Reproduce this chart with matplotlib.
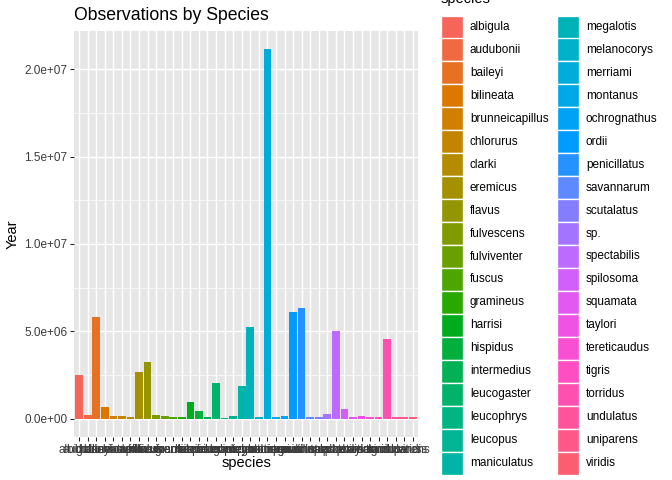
import numpy as np
import matplotlib
matplotlib.use("Agg")
from matplotlib import pyplot as plt
from matplotlib.patches import Rectangle
from matplotlib.ticker import FixedLocator

species = ["albigula", "audubonii", "baileyi", "bilineata", "brunneicapillus",
           "chlorurus", "clarki", "eremicus", "flavus", "fulvescens",
           "fulviventer", "fuscus", "gramineus", "harrisi", "hispidus",
           "intermedius", "leucogaster", "leucophrys", "leucopus", "maniculatus",
           "megalotis", "melanocorys", "merriami", "montanus", "ochrognathus",
           "ordii", "penicillatus", "savannarum", "scutalatus", "sp.",
           "spectabilis", "spilosoma", "squamata", "taylori", "tereticaudus",
           "tigris", "torridus", "undulatus", "uniparens", "viridis"]

year_sum = [2.52e6, 0.21e6, 5.83e6, 0.67e6, 0.17e6,
            0.17e6, 0.06e6, 2.64e6, 3.23e6, 0.21e6,
            0.15e6, 0.08e6, 0.09e6, 0.95e6, 0.44e6,
            0.09e6, 2.05e6, 0.04e6, 0.15e6, 1.86e6,
            5.26e6, 0.11e6, 2.114e7, 0.09e6, 0.17e6,
            6.10e6, 6.32e6, 0.06e6, 0.06e6, 0.25e6,
            5.03e6, 0.57e6, 0.11e6, 0.17e6, 0.06e6,
            0.06e6, 4.56e6, 0.08e6, 0.06e6, 0.06e6]

y_ticks = [0, 5e6, 1e7, 1.5e7, 2e7]
y_tick_labels = ["0.0e+00", "5.0e+06", "1.0e+07", "1.5e+07", "2.0e+07"]


def screen(rgb):
    # the reference looks a little darker than plain sRGB (gamma 1.8 vs 2.2)
    return tuple(ch ** (2.2 / 1.8) for ch in rgb)


def hcl_to_rgb(h, c=100, l=65):
    # polar Luv -> sRGB, like R's hcl()
    xn, yn, zn = 95.047, 100.0, 108.883
    u = c * np.cos(np.radians(h))
    v = c * np.sin(np.radians(h))
    y = yn * ((l + 16) / 116) ** 3 if l > 8 else yn * l / 903.3
    un = 4 * xn / (xn + 15 * yn + 3 * zn)
    vn = 9 * yn / (xn + 15 * yn + 3 * zn)
    up = u / (13 * l) + un
    vp = v / (13 * l) + vn
    x = y * 9 * up / (4 * vp)
    z = y * (12 - 3 * up - 20 * vp) / (4 * vp)
    x, y, z = x / 100, y / 100, z / 100
    r = 3.240479 * x - 1.537150 * y - 0.498535 * z
    g = -0.969256 * x + 1.875992 * y + 0.041556 * z
    b = 0.055648 * x - 0.204043 * y + 1.057311 * z
    out = []
    for ch in (r, g, b):
        ch = min(max(ch, 0), 1)
        ch = 12.92 * ch if ch <= 0.0031308 else 1.055 * ch ** (1 / 2.4) - 0.055
        out.append(min(max(ch, 0), 1))
    return tuple(out)


def grey(level):
    g = level / 100
    return screen((g, g, g))


n = len(species)
hues = np.linspace(15, 375, n + 1)[:n]
colors = [screen(hcl_to_rgb(h)) for h in hues]

plt.rcParams['font.family'] = ['Liberation Sans', 'DejaVu Sans']
W, H = 672, 480
fig = plt.figure(figsize=(7, 5), dpi=96)

left, right, top, bottom = 74, 418, 31, 437
ax = fig.add_axes([left / W, 1 - bottom / H, (right - left) / W, (bottom - top) / H])
ax.set_facecolor(grey(92))
x = np.arange(1, n + 1)
ax.bar(x, year_sum, width=0.9, color=colors, zorder=3)

ymax = max(year_sum)
ax.set_ylim(-0.05 * ymax, 1.05 * ymax)
ax.set_xlim(0.4, n + 0.6)
ax.yaxis.set_major_locator(FixedLocator(y_ticks))
ax.yaxis.set_minor_locator(FixedLocator([2.5e6, 7.5e6, 1.25e7, 1.75e7]))
ax.set_yticklabels(y_tick_labels)
ax.set_xticks(x)
ax.set_xticklabels(species)
ax.grid(which="major", color="white", linewidth=1.07, zorder=1)
ax.grid(which="minor", axis="y", color="white", linewidth=0.53, zorder=1)
for s in ax.spines.values():
    s.set_visible(False)
ax.tick_params(which="major", length=2.75, width=0.8, color=grey(20),
               labelsize=8.8, labelcolor=grey(30), pad=2.2)
ax.tick_params(which="minor", length=0)

# overlay for titles and legend, in pixel coordinates
ov = fig.add_axes([0, 0, 1, 1])
ov.set_xlim(0, W)
ov.set_ylim(H, 0)
ov.axis("off")
ov.patch.set_alpha(0)

ov.text(74, 20.5, "Observations by Species", fontsize=13.2, va="baseline", ha="left")
ov.text(246, 467.5, "species", fontsize=11, va="baseline", ha="center")
ov.text(13, 234, "Year", fontsize=11, rotation=90, va="center", ha="center")

ov.text(441, 3, "species", fontsize=11, va="baseline", ha="left")
rows = 20
step = 22.95
for i, (name, col) in enumerate(zip(species, colors)):
    c, r = divmod(i, rows)
    kx = 440.5 + c * 116
    cy = 27 + r * step
    ov.add_patch(Rectangle((kx, cy - 11.5), 22, 23, facecolor=col,
                           edgecolor="white", linewidth=1))
    ov.text(kx + 29.5, cy, name, fontsize=8.8, va="center", ha="left")

fig.savefig("out.png", dpi=96)
